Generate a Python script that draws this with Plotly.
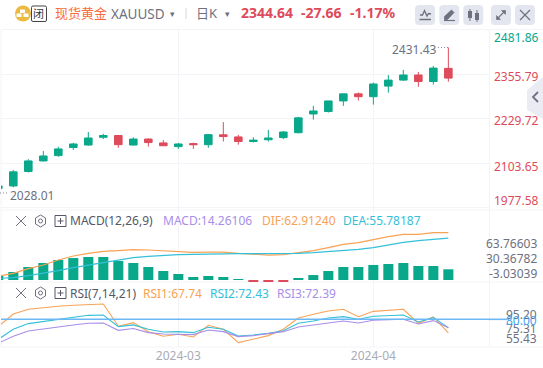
import plotly.graph_objects as go

# ---------- data ----------
index = list(range(-1, 30))
opens = [2032,2039,2080,2110,2125,2148,2155,2177,2182,2155,2172,2161,2150.5,2159,2156,2184,2178,2165,2170,2176,2190,2243,2250,2280,2300,2292,2322,2339,2353.5,2335,2372.3]
closes = [2039,2079,2110,2124,2144,2158,2175,2182,2156,2172,2162,2153,2158,2156,2184.5,2179,2165,2169,2175,2192,2232,2251.5,2280,2300,2292,2328,2339,2353.5,2335,2373,2344.64]
highs = [2040,2084,2115,2138,2150,2161,2192,2187,2182,2177,2174,2169,2161,2162,2186,2220,2184,2177,2198,2195,2235,2266,2280,2300,2304,2332,2353.5,2368,2362,2379,2431.43]
lows = [2028.01,2035,2077,2108,2122,2141,2153,2172,2147,2154,2150.5,2153,2144,2144,2147,2165,2156,2162,2165,2172,2188,2227,2247,2266,2281,2269.5,2303.5,2336.5,2320,2326,2334.6]
macd_hist = [5.3,10.6,17.3,22.6,26.6,29.2,30.6,30.6,25.3,22.6,17.3,12,8,4,5.3,4,0.4,-2.2,-2.2,-2.2,2.7,6.6,12,17.3,17.3,20,21.3,22.6,18.6,18.6,14.26]
dif = [5.3,8.9,15.1,19.9,26.6,31.9,35.4,38.1,39,40.3,39.9,39,37.7,36.8,37.2,37.2,35.4,34.1,33.2,33.7,36.3,39,43,47.4,49.6,54,57.6,60.7,60.7,62.9,62.91]
dea = [2.2,3.1,5.8,8.9,12.4,16.4,19.9,23,26.6,29.7,31.5,32.8,33.7,34.1,34.6,35,35,35,35,35,35.4,36.3,37.7,39,40.8,43,46.5,50,52.3,54.5,55.78]
rsi1 = [73.4,84.8,89.1,90.6,91.8,92.7,93.6,93.9,73.7,77,68.8,64.6,66.4,64,74.6,71,58.9,61.9,65.2,71,81.2,84.5,87.5,89.1,82.4,87.2,88.1,89.1,76.4,82.1,67.74]
rsi2 = [61.9,71,76.1,77.9,80.3,82.1,83.6,83.9,73.4,74.9,71,68.5,68.8,67.9,72.8,71,64.9,65.8,67.3,69.7,76.4,78.5,81.2,82.4,80,82.7,83.3,83.9,77.6,81.5,72.43]
rsi3 = [58.3,64.6,69.4,71,73.1,74.9,76.4,76.7,70,71.6,67.9,66.7,66.7,66.1,70.3,68.8,64.3,65.2,67,68.8,73.1,74.9,77.3,78.5,76.7,79.1,79.7,80,75.8,78.8,72.39]
rsi_level = 80.0
price_ticks = [2481.86, 2355.79, 2229.72, 2103.65, 1977.58]
date_ticks = [11, 24]
date_labels = ["2024-03", "2024-04"]

# ---------- style ----------
W, H = 543, 368
GREEN, RED = "#09a88a", "#de4b5a"
GRID = "#f3f4f8"
ORANGE, CYAN, PURPLE = "#f9a255", "#34c0d8", "#a78ee8"
GRAY = "#6e7080"
LEVEL = "#6cb8f6"
FONT = "Noto Sans, Noto Sans CJK SC, sans-serif"
PX = lambda x: x / W
PY = lambda y: 1 - y / H
XRANGE = [-0.82, 31.71]
XDOM = [PX(1), PX(489)]

fig = go.Figure()
fig.add_trace(go.Candlestick(x=index, open=opens, high=highs, low=lows, close=closes,
    increasing=dict(line=dict(color=GREEN, width=1), fillcolor=GREEN),
    decreasing=dict(line=dict(color=RED, width=1), fillcolor=RED),
    whiskerwidth=0, xaxis="x", yaxis="y", showlegend=False))
fig.add_trace(go.Bar(x=index, y=macd_hist, width=0.67,
    marker=dict(color=[GREEN if v >= 0 else RED for v in macd_hist], line_width=0),
    xaxis="x2", yaxis="y2", showlegend=False))
for vals, col in ((dif, ORANGE), (dea, CYAN)):
    fig.add_trace(go.Scatter(x=index, y=vals, mode="lines", line=dict(color=col, width=1.2),
                             xaxis="x2", yaxis="y2", showlegend=False))
for vals, col in ((rsi1, ORANGE), (rsi2, CYAN), (rsi3, PURPLE)):
    fig.add_trace(go.Scatter(x=index, y=vals, mode="lines", line=dict(color=col, width=1.1),
                             xaxis="x3", yaxis="y3", showlegend=False))
fig.add_trace(go.Scatter(x=XRANGE, y=[rsi_level, rsi_level], mode="lines",
                         line=dict(color=LEVEL, width=1.6), xaxis="x3", yaxis="y3", showlegend=False))

def xax(labels=False, anchor="y"):
    return dict(domain=XDOM, range=XRANGE, anchor=anchor, showgrid=True, gridcolor=GRID, gridwidth=1,
                tickmode="array", tickvals=date_ticks, ticktext=date_labels if labels else ["", ""],
                showticklabels=labels, ticks="", zeroline=False, showline=False,
                tickfont=dict(family=FONT, size=12, color="#a9abb8"), rangeslider=dict(visible=False))

def yax(dom, rng, ticks=None):
    return dict(domain=[PY(dom[1]), PY(dom[0])], range=rng, anchor="free", position=PX(489), side="right",
                showgrid=bool(ticks), gridcolor=GRID, gridwidth=1, tickvals=ticks or [], showticklabels=False,
                ticks="", zeroline=False, showline=False)

fig.update_layout(
    width=W, height=H, margin=dict(l=0, r=0, t=0, b=0), autosize=False,
    paper_bgcolor="white", plot_bgcolor="white", boxgap=0.28, bargap=0.33,
    font=dict(family=FONT, size=12), showlegend=False, dragmode=False,
    xaxis=xax(anchor="y"), xaxis2=xax(anchor="y2"), xaxis3=xax(labels=True, anchor="y3"),
    yaxis=yax((30, 210), [1970.9, 2481], price_ticks),
    yaxis2=yax((210, 282), [-2.66, 93.1]),
    yaxis3=yax((282, 347), [54.9, 113.8]),
)

ann = []
def T(x, y, s, color=GRAY, size=12, anchor="left", bold=False):
    ann.append(dict(xref="paper", yref="paper", x=PX(x), y=PY(y), text=f"<b>{s}</b>" if bold else s,
                    showarrow=False, xanchor=anchor, yanchor="middle",
                    font=dict(family=FONT, size=size, color=color), borderpad=0, borderwidth=0))

# header
T(55, 13, "现货黄金", "#fa6b3c", 13)
T(110.5, 14, "XAUUSD", GRAY, 13.5)
T(172, 13.5, "▾", GRAY, 9, "center")
T(196, 13, "日K", GRAY, 13)
T(227, 13.5, "▾", GRAY, 9, "center")
T(241, 13, "2344.64", RED, 14, bold=True)
T(301, 13, "-27.66", RED, 14, bold=True)
T(350, 13, "-1.17%", RED, 14, bold=True)
T(38.5, 13.5, "闭", "#333333", 11, "center")

# price axis labels
for y, p, c in ((37, price_ticks[0], GREEN), (76, price_ticks[1], RED), (121, price_ticks[2], RED),
                (166.5, price_ticks[3], RED), (200.5, price_ticks[4], RED)):
    T(538.5, y, f"{p:.2f}", c, 12, "right")
for y, s in ((243.5, "63.76603"), (258.5, "30.36782"), (273.5, "-3.03039")):
    T(537, y, s, GRAY, 12, "right")
for y, s, c in ((314, "95.20", GRAY), (328, "75.31", GRAY), (338, "55.43", GRAY), (320.5, "80.00", "#4aa3f0")):
    T(537, y, s, c, 12, "right")

# high / low marks
T(437, 49.5, f"{highs[-1]:.2f}", GRAY, 12, "right")
T(10, 195, f"{lows[0]:.2f}", GRAY, 12)

# pane headers
T(70, 221, "MACD(12,26,9)", "#555766", 12)
T(163, 221, "MACD:14.26106", PURPLE, 12)
T(262, 221, "DIF:62.91240", ORANGE, 12)
T(343, 221, "DEA:55.78187", CYAN, 12)
T(70, 293, "RSI(7,14,21)", "#555766", 12)
T(143, 293, f"RSI1:{rsi1[-1]:.2f}", ORANGE, 12)
T(210, 293, f"RSI2:{rsi2[-1]:.2f}", CYAN, 12)
T(277, 293, f"RSI3:{rsi3[-1]:.2f}", PURPLE, 12)
fig.update_layout(annotations=ann)

# decoration
sh = []
def line(x0, y0, x1, y1, color=GRID, w=1, dash=None):
    sh.append(dict(type="line", xref="paper", yref="paper", x0=PX(x0), y0=PY(y0), x1=PX(x1), y1=PY(y1),
                   line=dict(color=color, width=w, dash=dash or "solid"), layer="below" if color == GRID else "above"))
def path(d, fill=None, color=GRAY, w=1.2):
    parts = []
    for sub in d:
        closed = sub[-1] == "z"
        pts = sub[:-1] if closed else sub
        parts.append("M" + " L".join(f"{PX(x):.5f},{PY(y):.5f}" for x, y in pts) + (" Z" if closed else ""))
    sh.append(dict(type="path", xref="paper", yref="paper", path=" ".join(parts),
                   fillcolor=fill or "rgba(0,0,0,0)", line=dict(color=color, width=w)))
def rrect(x0, y0, x1, y1, r, fill, color=None, w=0):
    d = (f"M{PX(x0+r):.5f},{PY(y0):.5f} L{PX(x1-r):.5f},{PY(y0):.5f} Q{PX(x1):.5f},{PY(y0):.5f} {PX(x1):.5f},{PY(y0+r):.5f} "
         f"L{PX(x1):.5f},{PY(y1-r):.5f} Q{PX(x1):.5f},{PY(y1):.5f} {PX(x1-r):.5f},{PY(y1):.5f} "
         f"L{PX(x0+r):.5f},{PY(y1):.5f} Q{PX(x0):.5f},{PY(y1):.5f} {PX(x0):.5f},{PY(y1-r):.5f} "
         f"L{PX(x0):.5f},{PY(y0+r):.5f} Q{PX(x0):.5f},{PY(y0):.5f} {PX(x0+r):.5f},{PY(y0):.5f} Z")
    sh.append(dict(type="path", xref="paper", yref="paper", path=d, fillcolor=fill,
                   line=dict(color=color or fill, width=w)))

for y in (29.5, 210, 282, 347):
    line(1, y, 489 if y != 29.5 else 543, y)
line(489, 210, 543, 210)
line(489, 282, 543, 282); line(489, 347, 543, 347)
line(489.5, 30, 489.5, 347); line(1, 30, 1, 347)
line(186, 8, 186, 19, "#d5d7e0")
line(489, 319.3, 507, 319.3, LEVEL, 1.6)

# logo
sh.append(dict(type="circle", xref="paper", yref="paper", x0=PX(15), x1=PX(31), y0=PY(21.5), y1=PY(5.5),
               fillcolor="#edb93f", line_width=0))
for (a, b, c, e) in ((20, 9.5, 25, 13), (16.5, 13.5, 21.5, 17), (23.5, 13.5, 28.5, 17)):
    sh.append(dict(type="rect", xref="paper", yref="paper", x0=PX(a), x1=PX(c), y0=PY(e), y1=PY(b),
                   fillcolor="white", line_width=0))
rrect(31.5, 6, 46.5, 21.5, 1.5, "white", "#444444", 1)

# toolbar buttons
for a in (415, 439.3, 463.3, 491, 515):
    rrect(a, 5, a + 20, 25, 4, "#e4e6ef")
path([[(420, 15), (422.5, 15), (424.5, 10.5), (427, 16), (428.5, 13.5), (431, 14)], [(419.5, 19.5), (431, 19.5)]], w=1.3)
path([[(444.5, 19.5), (444.5, 16.5), (451.5, 10), (454, 12.5), (447.5, 19.5), "z"]], fill=GRAY, w=0.8)
path([[(444, 20.5), (455, 20.5)]], w=1.2)
path([[(470, 9), (470, 21)], [(477, 10), (477, 22)]], w=1)
sh.append(dict(type="rect", xref="paper", yref="paper", x0=PX(468), x1=PX(472), y0=PY(18), y1=PY(11), fillcolor=GRAY, line_width=0))
sh.append(dict(type="rect", xref="paper", yref="paper", x0=PX(475), x1=PX(479), y0=PY(20), y1=PY(13), fillcolor=GRAY, line_width=0))
path([[(497, 19), (505, 11)]], w=1.1)
path([[(501.5, 10.5), (505.5, 10.5), (505.5, 14.5), "z"], [(496.5, 15.5), (496.5, 19.5), (500.5, 19.5), "z"]], fill=GRAY, w=0.6)
path([[(520, 10), (530, 20)], [(530, 10), (520, 20)]], w=1.2)

# right collapse tab
path([[(543, 77), (527, 90), (527, 110), (543, 119), "z"]], fill="#ebecf3", color="#ebecf3", w=0)
path([[(538, 92), (533, 97), (538, 102)]], color="#6f7285", w=1.8)

# dots next to high / low
line(438, 47.5, 449, 47.5, "#8a8c99", 1, "1px,2px")
line(0, 193, 9, 193, "#8a8c99", 1, "1px,2px")

# pane header icons
for yc in (221, 293):
    path([[(16, yc - 5), (26, yc + 5)], [(26, yc - 5), (16, yc + 5)]], color=GRAY, w=1)
    path([[(40.5, yc - 6), (45.5, yc - 3), (45.5, yc + 3), (40.5, yc + 6), (35.5, yc + 3), (35.5, yc - 3), "z"]], color=GRAY, w=1)
    sh.append(dict(type="circle", xref="paper", yref="paper", x0=PX(38.5), x1=PX(42.5), y0=PY(yc + 2), y1=PY(yc - 2),
                   line=dict(color=GRAY, width=1), fillcolor="rgba(0,0,0,0)"))
    sh.append(dict(type="rect", xref="paper", yref="paper", x0=PX(55), x1=PX(66), y0=PY(yc + 5.5), y1=PY(yc - 5.5),
                   line=dict(color="#555766", width=1), fillcolor="rgba(0,0,0,0)"))
    path([[(57.5, yc), (63.5, yc)], [(60.5, yc - 3), (60.5, yc + 3)]], color="#555766", w=1)
fig.update_layout(shapes=sh)

fig.write_html("out.html", config=dict(displayModeBar=False),
               post_script="document.body.style.margin='0';document.documentElement.style.overflow='hidden';")
